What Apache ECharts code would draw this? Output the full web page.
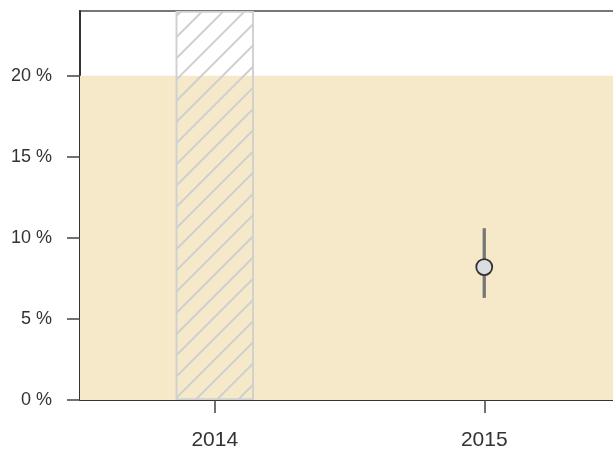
<!DOCTYPE html>
<html>
<head>
<meta charset="utf-8">
<script src="https://cdn.jsdelivr.net/npm/echarts@6/dist/echarts.min.js"></script>
<style>html,body{margin:0;padding:0;background:#fff}#c{width:613px;height:452px}</style>
</head>
<body>
<div id="c"></div>
<script>
const categories = ['2014', '2015'];
const hatchValues = [24, null];          // hatched (no estimate) bar
const pointValues = [null, 8.2];         // point estimate
const errLow = [null, 6.3];
const errHigh = [null, 10.6];
const bandRange = [0, 20];               // shaded band
const yTicks = [0, 5, 10, 15, 20];

const chart = echarts.init(document.getElementById('c'));
const errData = categories.map((c, i) => errLow[i] == null ? null : [i, errLow[i], errHigh[i]]).filter(d => d);

chart.setOption({
  animation: false,
  grid: { left: 80, right: -6, top: 11, bottom: 52, outerBoundsMode: 'none', containLabel: false, show: true, borderColor: '#777', borderWidth: 2, backgroundColor: 'transparent' },
  xAxis: {
    type: 'category', data: categories, boundaryGap: true,
    axisLine: { show: true, lineStyle: { color: '#333', width: 2 } },
    axisTick: { show: true, alignWithLabel: true, length: 13, lineStyle: { color: '#444', width: 1.5 } },
    axisLabel: { margin: 30, color: '#333', fontFamily: 'Liberation Sans', fontSize: 21 },
    splitLine: { show: false }
  },
  yAxis: {
    type: 'value', min: 0, max: 24, interval: 5,
    axisLine: { show: true, lineStyle: { color: '#333', width: 2 } },
    axisTick: { show: true, length: 13, customValues: yTicks, lineStyle: { color: '#444', width: 1.5 } },
    axisLabel: { margin: 28, color: '#333', fontFamily: 'Liberation Sans', fontSize: 18, customValues: yTicks, formatter: v => v + ' %' },
    splitLine: { show: false }
  },
  series: [
    {
      type: 'line', z: 1, silent: true, data: [], symbol: 'none',
      markArea: { silent: true, itemStyle: { color: '#F5E9CA', opacity: 1 }, data: [[{ yAxis: bandRange[0] }, { yAxis: bandRange[1] }]] }
    },
    {
      type: 'bar', z: 2, barWidth: 78, data: hatchValues,
      itemStyle: {
        color: 'rgba(0,0,0,0)', borderColor: '#d0d0d0', borderWidth: 1.5,
        decal: { symbol: 'rect', symbolSize: 1, dashArrayX: [1, 0], dashArrayY: [1.4, 12.4], rotation: -Math.PI / 4, color: '#cfcfcf', backgroundColor: 'rgba(0,0,0,0)' }
      }
    },
    {
      type: 'custom', z: 3, data: errData,
      renderItem: (params, api) => {
        const p1 = api.coord([api.value(0), api.value(1)]);
        const p2 = api.coord([api.value(0), api.value(2)]);
        return { type: 'line', shape: { x1: p1[0], y1: p1[1], x2: p2[0], y2: p2[1] }, style: { stroke: '#777', lineWidth: 3.3 } };
      }
    },
    {
      type: 'scatter', z: 4, symbol: 'circle', symbolSize: 16, data: pointValues,
      itemStyle: { color: '#dcdde0', borderColor: '#333', borderWidth: 1.8, opacity: 1 }
    }
  ]
});
</script>
</body>
</html>
